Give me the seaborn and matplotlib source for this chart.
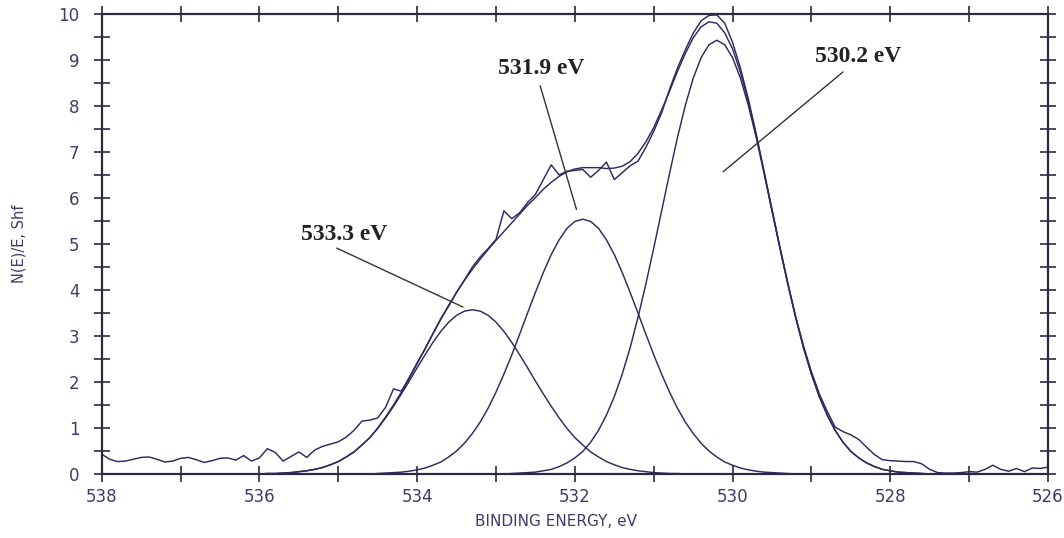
import numpy as np
import pandas as pd
import matplotlib
matplotlib.use("Agg")
import matplotlib.pyplot as plt
from matplotlib.ticker import MultipleLocator
import seaborn as sns

# binding energy grid of the spectrum, 0.1 eV steps from 538 down to 526 eV
energy = np.linspace(538.0, 526.0, 121)

raw = [0.43, 0.32, 0.27, 0.28, 0.32, 0.36, 0.37, 0.32, 0.26, 0.28,
       0.34, 0.36, 0.31, 0.25, 0.29, 0.34, 0.35, 0.30, 0.40, 0.28,
       0.35, 0.55, 0.47, 0.28, 0.38, 0.48, 0.36, 0.52, 0.60, 0.65,
       0.70, 0.80, 0.95, 1.15, 1.17, 1.22, 1.45, 1.85, 1.80, 2.10,
       2.42, 2.72, 3.05, 3.38, 3.65, 3.95, 4.22, 4.50, 4.72, 4.90,
       5.10, 5.72, 5.55, 5.68, 5.90, 6.08, 6.40, 6.72, 6.50, 6.58,
       6.60, 6.62, 6.45, 6.60, 6.78, 6.40, 6.55, 6.70, 6.80, 7.10,
       7.45, 7.85, 8.36, 8.82, 9.22, 9.58, 9.85, 9.97, 9.98, 9.80,
       9.38, 8.82, 8.15, 7.38, 6.55, 5.72, 4.92, 4.15, 3.42, 2.78,
       2.22, 1.74, 1.36, 1.02, 0.92, 0.85, 0.75, 0.58, 0.42, 0.31,
       0.29, 0.28, 0.27, 0.27, 0.22, 0.10, 0.03, 0.02, 0.02, 0.03,
       0.05, 0.04, 0.10, 0.19, 0.10, 0.06, 0.12, 0.05, 0.13, 0.12,
       0.15]

# fitted components
peak_533 = [0.0] * 21 + [
    0.01, 0.01, 0.02, 0.03, 0.05, 0.07, 0.10, 0.14, 0.20, 0.27, 0.37, 0.48,
    0.63, 0.79, 0.99, 1.22, 1.47, 1.74, 2.02, 2.31, 2.59, 2.86, 3.10, 3.30,
    3.45, 3.54, 3.57, 3.54, 3.45, 3.30, 3.10, 2.86, 2.59, 2.31, 2.02, 1.74,
    1.47, 1.22, 0.99, 0.79, 0.63, 0.48, 0.37, 0.27, 0.20, 0.14, 0.10, 0.07,
    0.05, 0.03, 0.02, 0.01, 0.01] + [0.0] * 47

peak_532 = [0.0] * 35 + [
    0.01, 0.02, 0.03, 0.04, 0.06, 0.09, 0.13, 0.19, 0.26, 0.37, 0.50, 0.67,
    0.88, 1.13, 1.43, 1.78, 2.17, 2.59, 3.04, 3.50, 3.95, 4.38, 4.77, 5.09,
    5.34, 5.49, 5.54, 5.49, 5.34, 5.09, 4.77, 4.38, 3.95, 3.50, 3.04, 2.59,
    2.17, 1.78, 1.43, 1.13, 0.88, 0.67, 0.50, 0.37, 0.26, 0.19, 0.13, 0.09,
    0.06, 0.04, 0.03, 0.02, 0.01] + [0.0] * 33

peak_530 = [0.0] * 52 + [
    0.01, 0.02, 0.03, 0.04, 0.07, 0.10, 0.16, 0.24, 0.35, 0.49, 0.69, 0.95,
    1.28, 1.68, 2.17, 2.74, 3.40, 4.13, 4.91, 5.72, 6.53, 7.31, 8.01, 8.60,
    9.05, 9.33, 9.43, 9.33, 9.05, 8.60, 8.01, 7.31, 6.53, 5.72, 4.91, 4.13,
    3.40, 2.74, 2.17, 1.68, 1.28, 0.95, 0.69, 0.49, 0.35, 0.24, 0.16, 0.10,
    0.07, 0.04, 0.03, 0.02, 0.01] + [0.0] * 16

envelope = [0.0] * 21 + [
    0.01, 0.01, 0.02, 0.03, 0.05, 0.07, 0.10, 0.14, 0.20, 0.27, 0.37, 0.48,
    0.63, 0.79, 1.00, 1.24, 1.50, 1.78, 2.08, 2.40, 2.72, 3.05, 3.36, 3.67,
    3.95, 4.21, 4.45, 4.67, 4.88, 5.08, 5.27, 5.46, 5.65, 5.84, 6.01, 6.19,
    6.34, 6.47, 6.57, 6.63, 6.66, 6.66, 6.66, 6.64, 6.65, 6.69, 6.79, 6.97,
    7.22, 7.53, 7.91, 8.32, 8.75, 9.14, 9.48, 9.72, 9.83, 9.80, 9.59, 9.24,
    8.73, 8.10, 7.37, 6.57, 5.75, 4.93, 4.14, 3.40, 2.74, 2.17, 1.68, 1.28,
    0.95, 0.69, 0.49, 0.35, 0.24, 0.16, 0.10, 0.07, 0.04, 0.03, 0.02,
    0.01] + [0.0] * 16

# peak labels and their pointer lines
peak_labels = ["533.3 eV", "531.9 eV", "530.2 eV"]
label_xy = [(534.93, 5.20), (532.43, 8.82), (528.41, 9.07)]
pointer_from = [(535.02, 4.91), (532.44, 8.44), (528.60, 8.74)]
pointer_to = [(533.42, 3.63), (531.98, 5.75), (530.12, 6.57)]

curves = {"raw": raw, "envelope": envelope, "533.3": peak_533,
          "531.9": peak_532, "530.2": peak_530}
df = pd.concat([pd.DataFrame({"energy": energy, "intensity": vals, "curve": name})
                for name, vals in curves.items()], ignore_index=True)

sns.set_theme(style="white")
plt.rcParams["font.family"] = ["DejaVu Sans"]

line_col = "#2b2b5e"
axis_col = "#2a2a40"
text_col = "#3c3c6c"

fig, ax = plt.subplots(figsize=(10.64, 5.38), dpi=100)
fig.subplots_adjust(left=0.0956, right=0.985, bottom=0.119, top=0.974)

sns.lineplot(data=df, x="energy", y="intensity", units="curve", estimator=None,
             sort=False, color=line_col, linewidth=1.05, legend=False, ax=ax)

for lab, pos, p0, p1 in zip(peak_labels, label_xy, pointer_from, pointer_to):
    ax.annotate("", xy=p1, xytext=p0,
                arrowprops=dict(arrowstyle="-", color="#333333", lw=1.0,
                                shrinkA=0, shrinkB=0))
    ax.text(pos[0], pos[1], lab, ha="center", va="center", fontsize=17,
            fontweight="bold", color="#222222",
            family=["Liberation Serif", "DejaVu Serif"])

ax.set_xlim(538, 526)
ax.set_ylim(0, 10)
ax.xaxis.set_major_locator(MultipleLocator(2))
ax.xaxis.set_minor_locator(MultipleLocator(1))
ax.yaxis.set_major_locator(MultipleLocator(1))
ax.yaxis.set_minor_locator(MultipleLocator(0.5))

ax.tick_params(which="both", direction="inout", length=12, width=1.2,
               color=axis_col, top=True, right=True, bottom=True, left=True,
               labelsize=12, labelcolor=text_col)
ax.tick_params(axis="y", which="major", pad=10)
ax.tick_params(axis="x", which="major", pad=4)

for side in ["left", "right", "top", "bottom"]:
    ax.spines[side].set_visible(True)
    ax.spines[side].set_color(axis_col)
    ax.spines[side].set_linewidth(1.6)

ax.set_xlabel("BINDING ENERGY, eV", fontsize=11, color=text_col, va="top")
ax.set_ylabel("N(E)/E, Shf", fontsize=10.5, color=text_col)
ax.xaxis.set_label_coords(0.48, -0.087)
ax.yaxis.set_label_coords(-0.079, 0.5)

plt.savefig("out.png", dpi=100)
